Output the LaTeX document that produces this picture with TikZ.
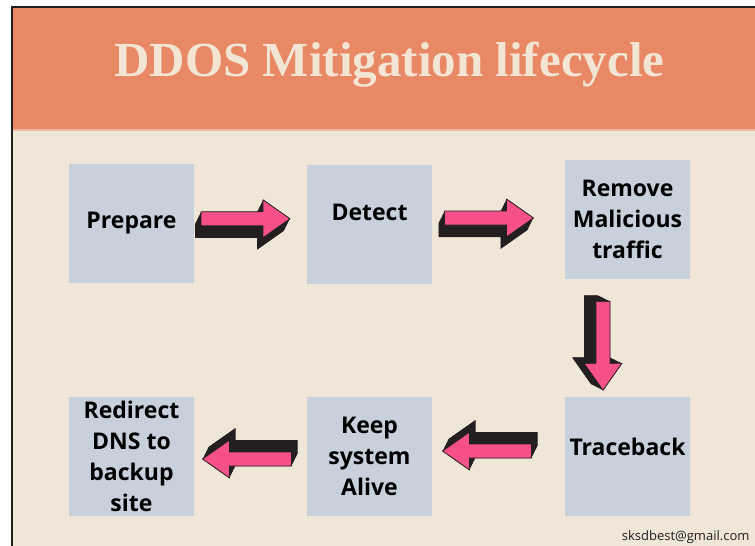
\documentclass[tikz,border=0pt]{standalone}
\usepackage{fontspec}
\usetikzlibrary{calc}
\newfontfamily\boxfont{Open Sans}
\newfontfamily\titlefont{Liberation Serif}
\definecolor{headcol}{HTML}{E98865}
\definecolor{titlecol}{HTML}{F2E5D3}
\definecolor{bgcol}{HTML}{F0E6D8}
\definecolor{boxcol}{HTML}{C8D0DB}
\definecolor{pinkcol}{HTML}{F5508A}
\definecolor{shadowcol}{HTML}{231F20}
\tikzset{
  stepbox/.style={rectangle, fill=boxcol, minimum width=125pt, minimum height=119pt,
    inner sep=0pt, align=center, font=\boxfont\bfseries\fontsize{23}{31}\selectfont},
  blockarrow/.pic={
    \foreach \t in {0,0.05,...,1.001}{
      \fill[shadowcol, shift={(-6*\t,-12*\t)}]
        (-44.5,-7) -- (17.5,-7) -- (17.5,-19) -- (44.5,0) -- (17.5,19) -- (17.5,7) -- (-44.5,7) -- cycle;
    }
    \filldraw[fill=pinkcol, draw=shadowcol, line width=0.8pt, line join=round]
      (-44.5,-7) -- (17.5,-7) -- (17.5,-19) -- (44.5,0) -- (17.5,19) -- (17.5,7) -- (-44.5,7) -- cycle;
  }
}
\begin{document}
\begin{tikzpicture}[x=1pt,y=1pt]
\useasboundingbox (0,0) rectangle (755,-546);
\fill[white] (0,0) rectangle (755,-546);
\fill[bgcol] (12,-130) rectangle (755,-546);
\fill[headcol] (12,-7) rectangle (755,-130);
\draw[headcol!60!white, line width=1.2pt] (12,-130) -- (755,-130);
\draw[shadowcol, line width=1.6pt] (12,-546) -- (12,-7) -- (755,-7);

\node[anchor=base, text=titlecol, font=\titlefont\bfseries\fontsize{49}{55}\selectfont] (title) at (389.5,-76) {DDOS Mitigation lifecycle};

\node[stepbox] (prep) at (131.5,-223.5) {Prepare};
\node[stepbox] (det) at (369.5,-224) {\raisebox{24pt}{Detect}};
\node[stepbox] (rem) at (627.5,-219.5) {Remove\\Malicious\\traffic};
\node[stepbox] (redir) at (131.5,-456.5) {Redirect\\DNS to\\backup\\site};
\node[stepbox] (keep) at (369.5,-456.5) {Keep\\system\\Alive};
\node[stepbox] (trace) at (627.5,-456) {\raisebox{18pt}{Traceback}};

\pic at ($(prep.east)!0.5!(det.west)+(-5,5)$) {blockarrow};
\pic at ($(det.east)!0.5!(rem.west)+(-9.5,3.75)$) {blockarrow};
\pic[rotate=-90] at ($(rem.south)!0.5!(trace.north)+(-24.5,-8)$) {blockarrow};
\pic[rotate=180] at ($(trace.west)!0.5!(keep.east)+(-11.5,5.25)$) {blockarrow};
\pic[rotate=180] at ($(keep.west)!0.5!(redir.east)+(-3.5,-2.5)$) {blockarrow};

\node[anchor=base east, text=shadowcol, font=\boxfont\fontsize{13}{15}\selectfont] (mail) at (753,-540) {sksdbest@gmail.com};
\end{tikzpicture}
\end{document}
